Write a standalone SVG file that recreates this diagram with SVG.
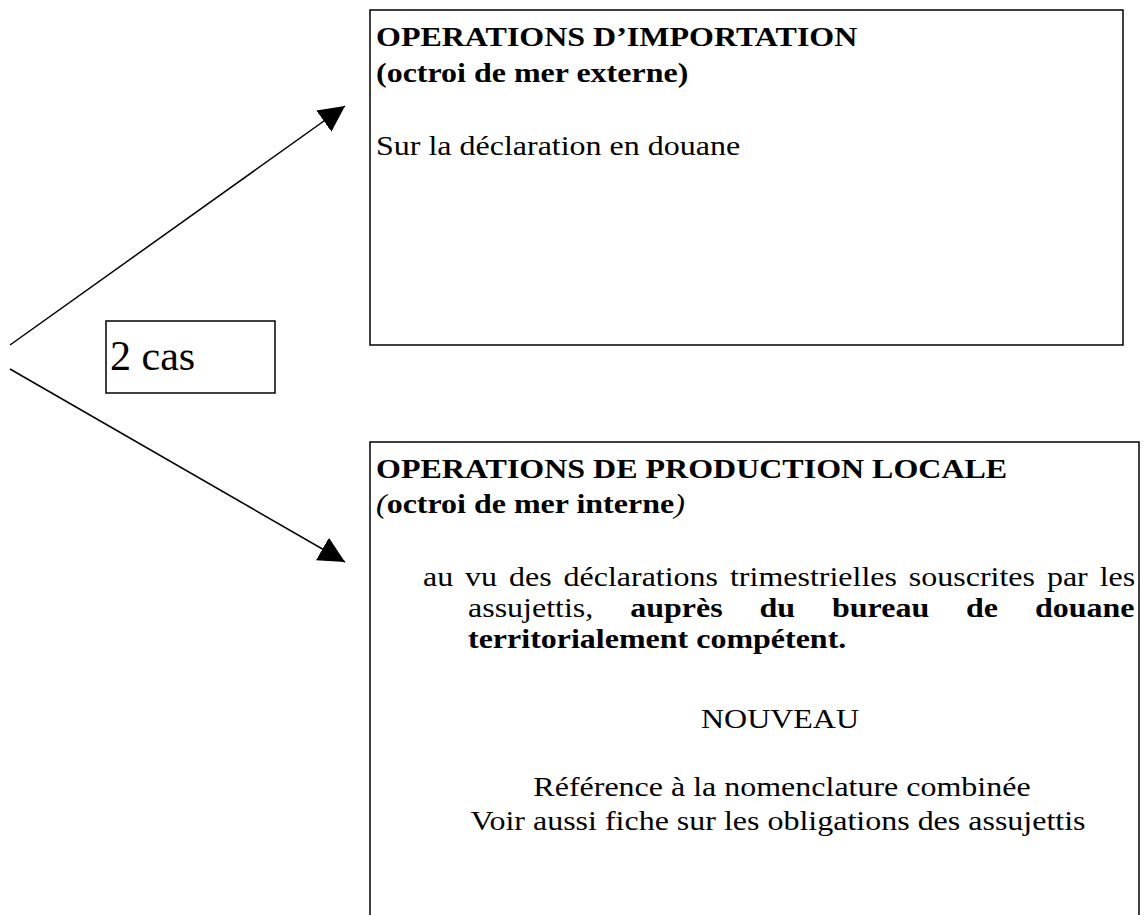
<svg xmlns="http://www.w3.org/2000/svg" width="1143" height="915" viewBox="0 0 1143 915">
<style>
  .box{fill:#fff;stroke:#000;stroke-width:1.5}
  .t{font-family:"Liberation Serif","Times New Roman",serif;font-size:27px;fill:#000}
  .b{font-weight:bold}
  .m{text-anchor:middle}
  .conn{stroke:#000;stroke-width:1.5;fill:none}
</style>
<defs>
  <marker id="ah" viewBox="0 0 26 26" refX="26" refY="13" markerWidth="26" markerHeight="26" markerUnits="userSpaceOnUse" orient="auto">
    <path d="M0,0 L26,13 L0,26 z" fill="#000"/>
  </marker>
</defs>
<rect width="1143" height="915" fill="#fff"/>
<g id="connectors">
  <line class="conn" x1="10" y1="345" x2="345" y2="106" marker-end="url(#ah)"/>
  <line class="conn" x1="10" y1="369" x2="345" y2="562" marker-end="url(#ah)"/>
</g>
<g id="node-import">
  <rect class="box" x="370" y="10" width="753" height="335"/>
  <text class="t b" transform="translate(376 46) scale(1.185 1)">OPERATIONS D’IMPORTATION</text>
  <text class="t b" transform="translate(376 82) scale(1.185 1)">(octroi de mer externe)</text>
  <text class="t" transform="translate(376 155) scale(1.185 1)">Sur la déclaration en douane</text>
</g>
<g id="node-cas">
  <rect class="box" x="106" y="321" width="169" height="72"/>
  <text class="t" x="110" y="370" style="font-size:42px">2 cas</text>
</g>
<g id="node-local">
  <rect class="box" x="370" y="442" width="769" height="480"/>
  <text class="t b" transform="translate(376 478) scale(1.185 1)">OPERATIONS DE PRODUCTION LOCALE</text>
  <text class="t b" transform="translate(376 513) scale(1.185 1)"><tspan font-style="italic" font-weight="normal">(</tspan>octroi de mer interne<tspan font-style="italic" font-weight="normal">)</tspan></text>
  <text class="t" transform="translate(423 586) scale(1.185 1)" word-spacing="3.3">au vu des déclarations trimestrielles souscrites par les</text>
  <text class="t" transform="translate(468 617) scale(1.185 1)" word-spacing="24.4">assujettis, <tspan class="b">auprès du bureau de douane</tspan></text>
  <text class="t b" transform="translate(468 648) scale(1.185 1)">territorialement compétent.</text>
  <text class="t m" transform="translate(780 728) scale(1.185 1)">NOUVEAU</text>
  <text class="t m" transform="translate(782 796) scale(1.185 1)">Référence à la nomenclature combinée</text>
  <text class="t m" transform="translate(778 830) scale(1.185 1)">Voir aussi fiche sur les obligations des assujettis</text>
</g>
</svg>
